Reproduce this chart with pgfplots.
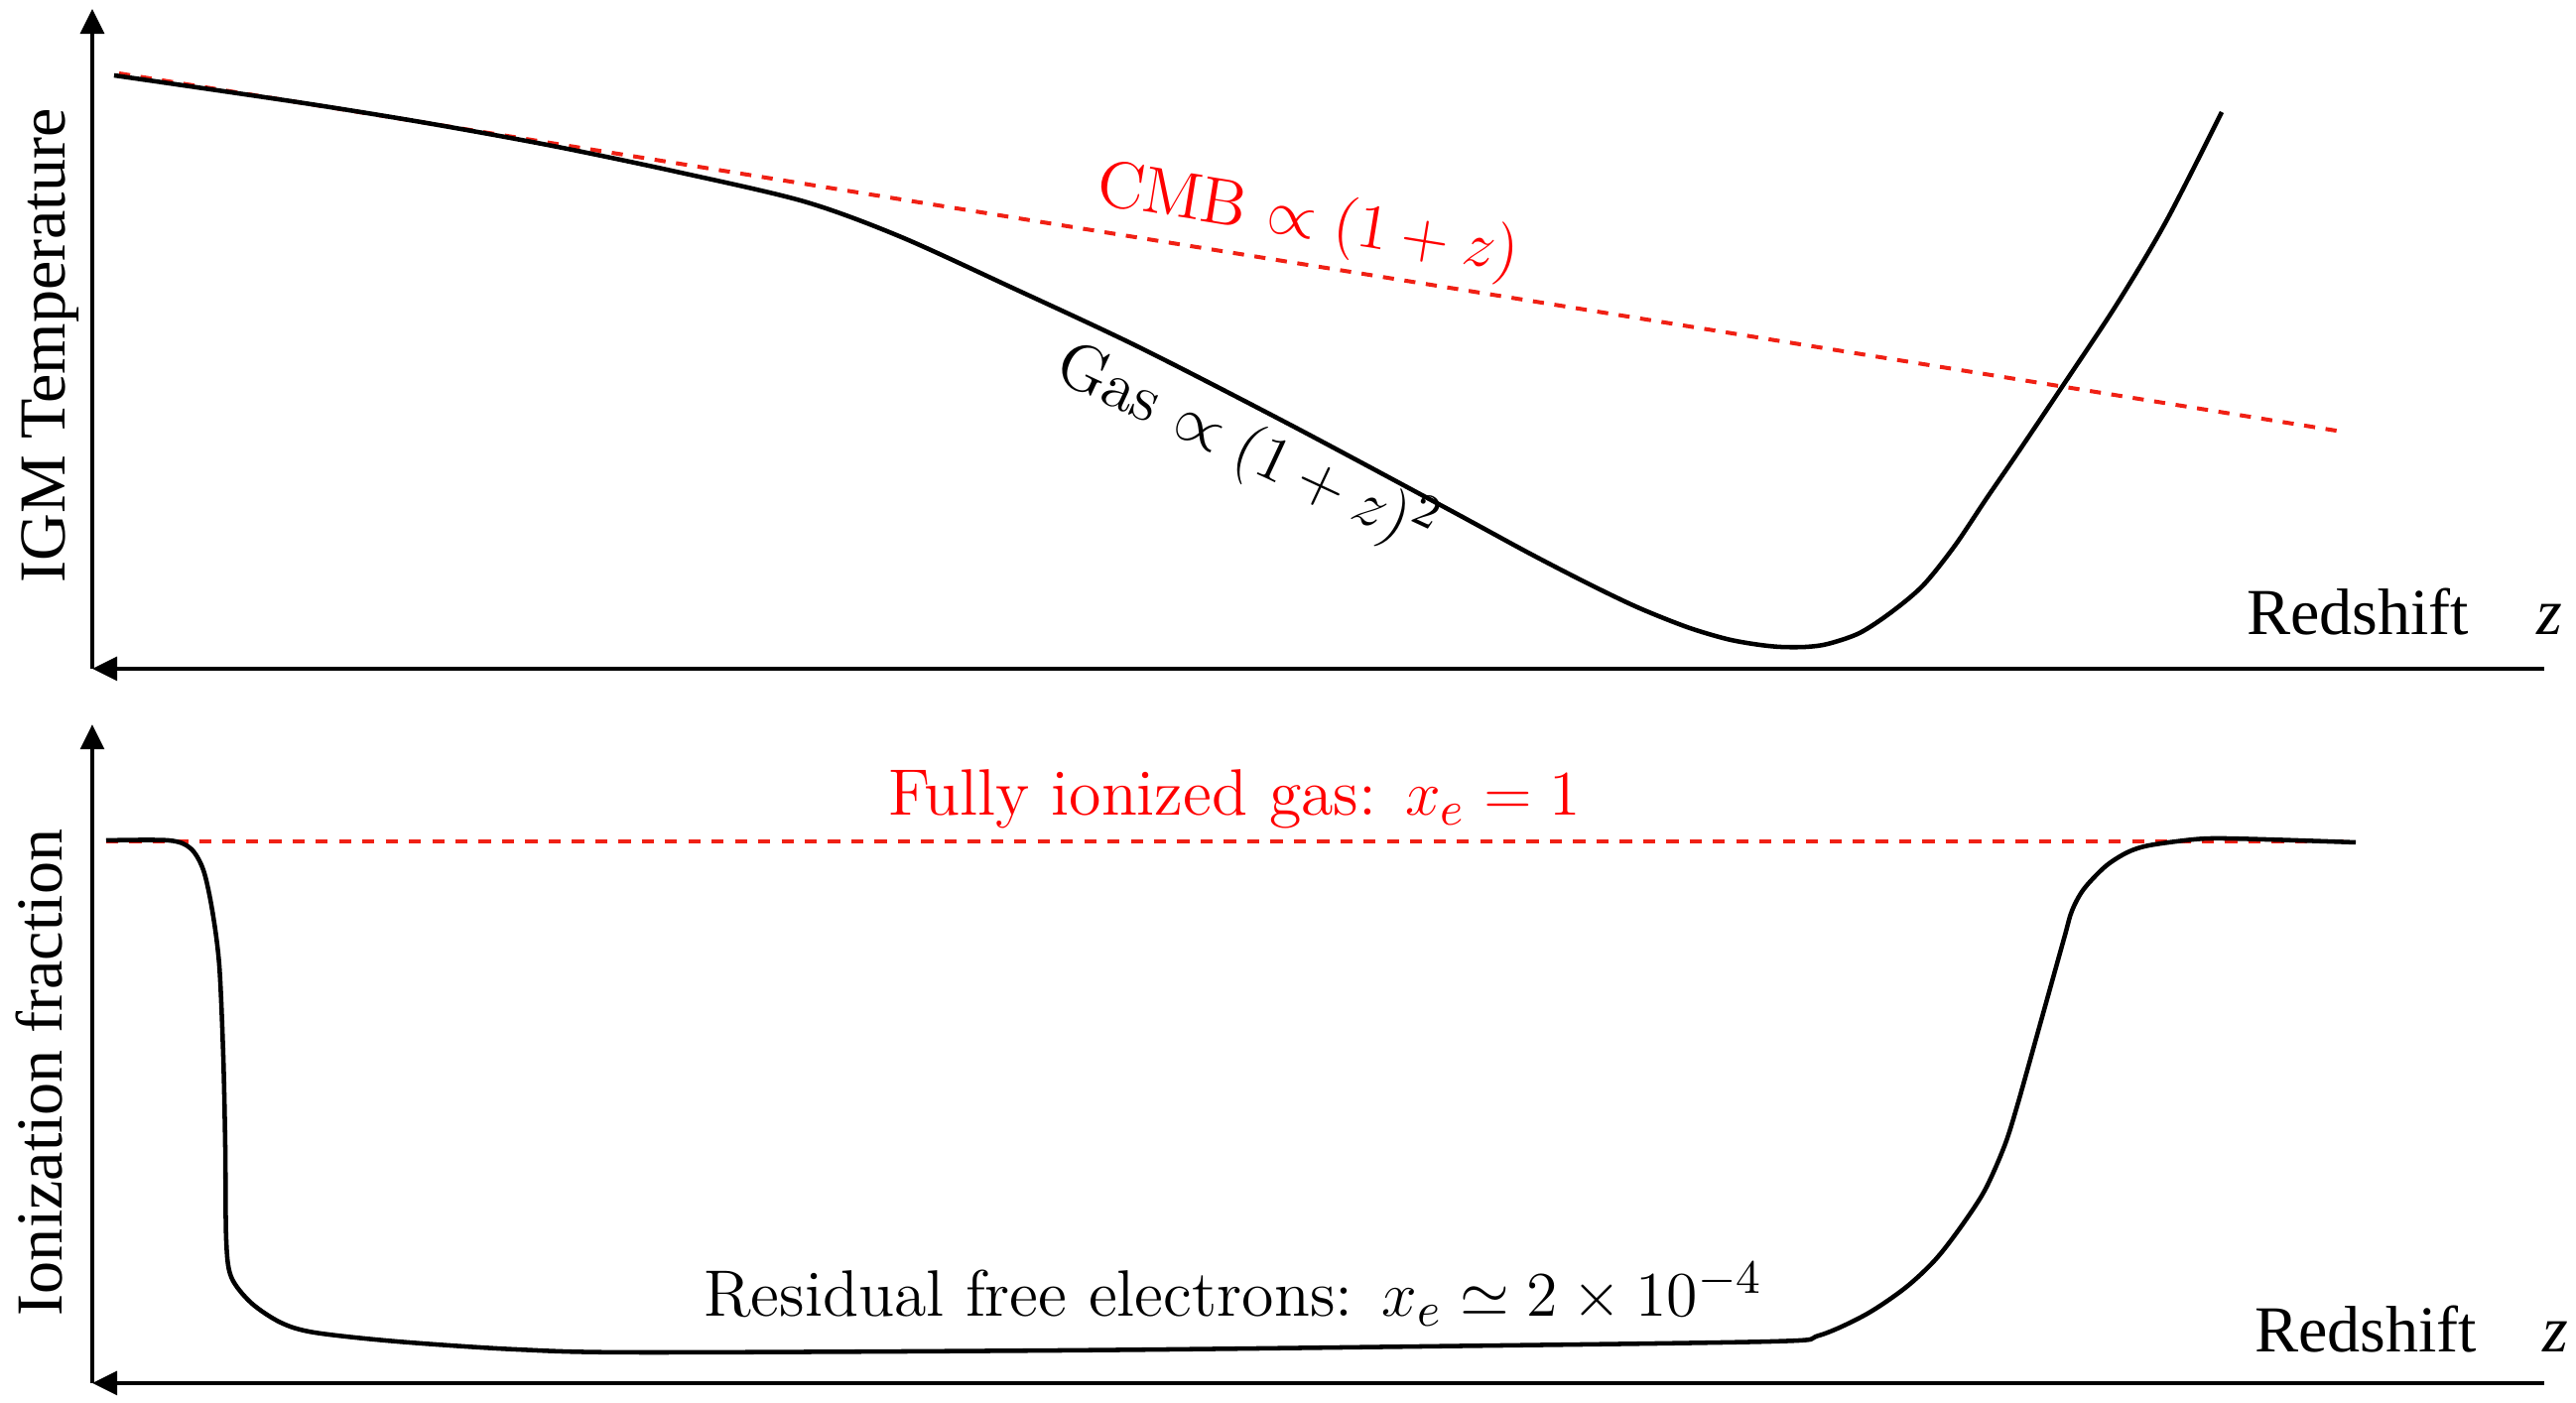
\documentclass[border=0pt]{standalone}
\usepackage{fontspec}
\newfontfamily\tnr{Liberation Serif}
\usepackage{pgfplots}
\pgfplotsset{compat=1.18}
\usetikzlibrary{arrows.meta}
\definecolor{cmbred}{RGB}{240,32,20}

% one unit = one pixel of the 2596x1414 reference
\pgfplotsset{
  sketch/.style={
    x=0.1875pt, y=0.1875pt,
    xmin=93, xmax=2564,
    enlargelimits=false,
    axis x line=bottom, axis y line=left,
    x axis line style={line width=0.85pt, {Triangle[length=4.7pt,width=4.4pt]}-},
    y axis line style={line width=0.85pt, -{Triangle[length=4.7pt,width=4.4pt]}},
    ticks=none,
    clip=false,
    anchor=south west,
  },
}

\begin{document}
\begin{tikzpicture}[font=\fontsize{12.4}{15}\selectfont]

% top panel: temperatures
\begin{axis}[sketch, at={(17.4375pt,138.75pt)}, ymin=740, ymax=1405]
\addplot[cmbred, line width=0.75pt, dash pattern=on 2.1pt off 2pt] coordinates {(120,1340) (2360,979)};
\addplot[black, line width=0.85pt, smooth] coordinates {
  (115,1338) (300,1311) (427.6,1290.4) (555,1267.3) (682.6,1240.7) (810,1211)
  (906,1176) (1020,1124) (1148,1064) (1300,986) (1459,901) (1540,857)
  (1600,826) (1650,802) (1700,782) (1740,770) (1770,764.5) (1794,762)
  (1820,762) (1842,765) (1874,776) (1906,797) (1938,824) (1970,864)
  (2001.5,911) (2033,957) (2078,1024) (2133,1107) (2183,1191) (2239,1301)};
\node[red, rotate=-9.2] at (axis cs:1318,1190) {CMB $\propto (1+z)$};
\node[black, rotate=-25] at (axis cs:1256,962) {Gas $\propto (1+z)^2$};
\node[anchor=base, rotate=90] at (axis cs:65,1065.5) {\tnr IGM Temperature};
\node[anchor=base west, inner sep=0pt] at (axis cs:2263,774) {\tnr Redshift};
\node[anchor=base west, inner sep=0pt] at (axis cs:2555,774) {\tnr\itshape z};
\end{axis}

% bottom panel: ionization fraction
\begin{axis}[sketch, at={(17.4375pt,3.75pt)}, ymin=20, ymax=684]
\addplot[cmbred, line width=0.75pt, dash pattern=on 2.3pt off 2.1pt] coordinates {(107,566) (2362,566)};
\addplot[black, line width=0.85pt, smooth] coordinates {
  (107,567) (170,567) (192,559) (205,537) (214,496) (221,441) (225,350)
  (227,259) (228,164) (233,127) (253,101) (283,81) (317,71) (400,62)
  (520,54) (645,51) (1070,53) (1433,57) (1785,62) (1833,68) (1880,89)
  (1920,116) (1950,144) (1975,176) (2000,214) (2020,259) (2033,300)
  (2056,382) (2080,468) (2088,496) (2100,518) (2122,541) (2144,555)
  (2166,562) (2211,568) (2240,569) (2299,567.5) (2374,565)};
\node[red, anchor=base] at (axis cs:1244,592) {Fully ionized gas: $x_e = 1$};
\node[black, anchor=base] at (axis cs:1243,87) {Residual free electrons: $x_e \simeq 2\times 10^{-4}$};
\node[anchor=base, rotate=90] at (axis cs:62.5,333) {\tnr Ionization fraction};
\node[anchor=base west, inner sep=0pt] at (axis cs:2271,51) {\tnr Redshift};
\node[anchor=base west, inner sep=0pt] at (axis cs:2561,51) {\tnr\itshape z};
\end{axis}

\pgfresetboundingbox
\useasboundingbox (0,0) rectangle (486.75pt,265.125pt);
\end{tikzpicture}
\end{document}
